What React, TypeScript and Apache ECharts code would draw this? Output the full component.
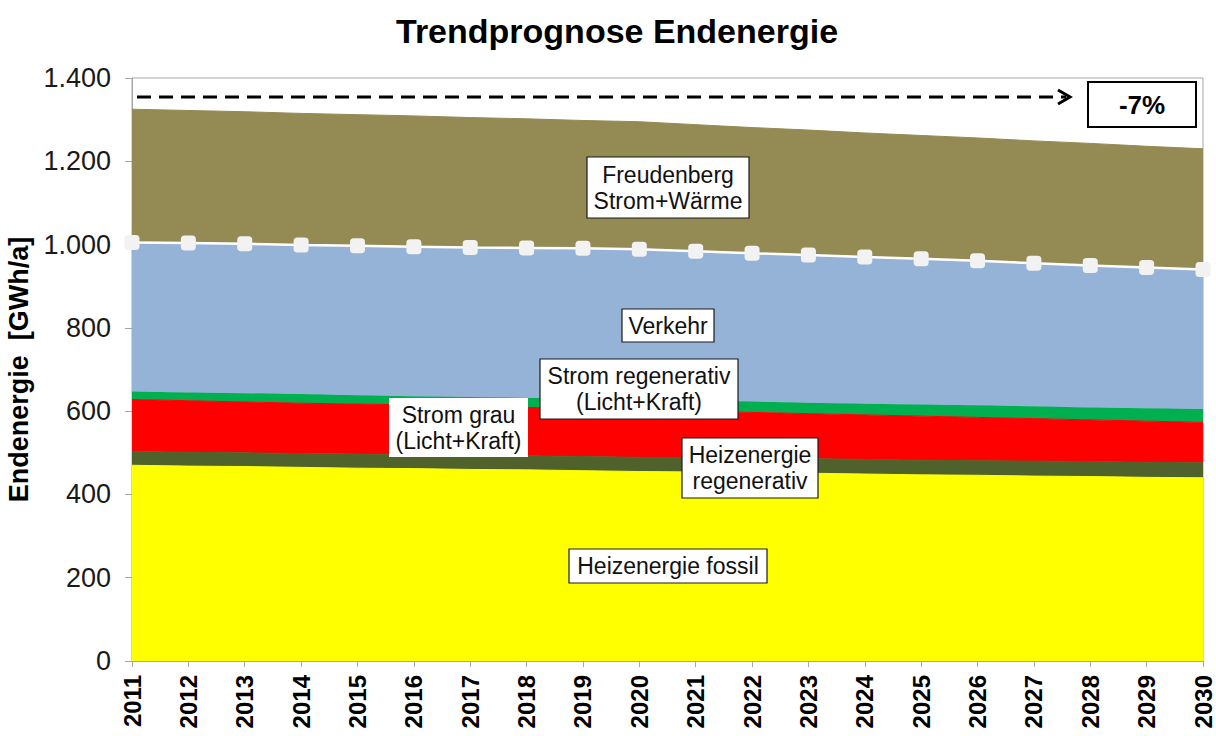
import React, { useEffect, useRef } from "react";
import * as echarts from "echarts";

const years = ["2011","2012","2013","2014","2015","2016","2017","2018","2019","2020","2021","2022","2023","2024","2025","2026","2027","2028","2029","2030"];

// individual (non-cumulative) values in GWh/a
const heizFossil = [470, 468, 467, 465, 463, 462, 460, 459, 457, 455, 454, 452, 451, 449, 447, 446, 444, 443, 441, 440];
const heizRegen = [33, 33, 33, 33, 34, 34, 34, 34, 34, 34, 35, 35, 35, 35, 35, 35, 36, 36, 36, 36];
const stromGrau = [125, 124, 122, 121, 120, 119, 118, 116, 115, 114, 111, 110, 108, 107, 106, 104, 102, 100, 99, 97];
const stromRegen = [19, 20, 21, 22, 21, 21, 22, 23, 23, 24, 25, 26, 26, 27, 28, 29, 30, 30, 31, 32];
const verkehr = [358, 359, 359, 358, 359, 359, 359, 360, 362, 362, 359, 356, 355, 352, 350, 347, 343, 341, 338, 335];
const freudenberg = [320, 318, 317, 316, 315, 314, 312, 310, 307, 306, 304, 302, 300, 298, 296, 295, 294, 293, 291, 290];

const yTicks = [0, 200, 400, 600, 800, 1000, 1200, 1400];

const FONT = "'Liberation Sans', Arial, sans-serif";

function fmt(v: number): string {
  if (v >= 1000) {
    return Math.floor(v / 1000) + "." + String(v % 1000).padStart(3, "0");
  }
  return String(v);
}

function areaSeries(name: string, data: number[], color: string, extra: any = {}) {
  return {
    name,
    type: "line",
    stack: "total",
    data,
    symbol: "none",
    showSymbol: false,
    lineStyle: { width: 1, color },
    itemStyle: { color },
    areaStyle: { color, opacity: 1 },
    ...extra,
  };
}

function box(cx: number, cy: number, w: number, h: number, text: string, border: boolean) {
  return {
    type: "group",
    children: [
      {
        type: "rect",
        shape: { x: cx - w / 2, y: cy - h / 2, width: w, height: h },
        style: { fill: "#ffffff", stroke: border ? "#1a1a1a" : null, lineWidth: border ? 1.2 : 0 },
        z: 100,
      },
      {
        type: "text",
        x: cx,
        y: cy,
        style: {
          text,
          fill: "#111111",
          font: `23px ${FONT}`,
          align: "center",
          verticalAlign: "middle",
          lineHeight: 26,
        },
        z: 101,
      },
    ],
  };
}

export default function App() {
  const ref = useRef<HTMLDivElement>(null);
  useEffect(() => {
    if (!ref.current) return;
    const chart = echarts.init(ref.current, null, { renderer: "svg" });
    const option: any = {
      animation: false,
      backgroundColor: "#ffffff",
      title: {
        text: "Trendprognose Endenergie",
        left: 391,
        top: 9,
        textStyle: { fontFamily: FONT, fontWeight: "bold", fontSize: 34, color: "#000" },
      },
      grid: {
        left: 132,
        top: 78,
        width: 1071,
        height: 583,
        show: true,
        containLabel: false,
        outerBoundsMode: "none",
        borderColor: "#a6a6a6",
        borderWidth: 1,
        backgroundColor: "transparent",
      },
      xAxis: {
        type: "category",
        data: years,
        boundaryGap: false,
        axisLine: { lineStyle: { color: "#a6a6a6", width: 1 } },
        axisTick: { show: true, alignWithLabel: true, length: 6, lineStyle: { color: "#a6a6a6" } },
        axisLabel: {
          rotate: 90,
          interval: 0,
          margin: 14,
          fontFamily: FONT,
          fontWeight: "bold",
          fontSize: 24,
          color: "#000",
        },
        splitLine: { show: false },
      },
      yAxis: {
        type: "value",
        min: 0,
        max: 1400,
        interval: 200,
        name: "Endenergie  [GWh/a]",
        nameLocation: "middle",
        nameRotate: 90,
        nameGap: 95,
        nameTextStyle: { fontFamily: FONT, fontWeight: "bold", fontSize: 27, color: "#000" },
        axisLine: { show: true, lineStyle: { color: "#a6a6a6", width: 1 } },
        axisTick: { show: true, length: 7, lineStyle: { color: "#a6a6a6" } },
        axisLabel: {
          margin: 21,
          fontFamily: FONT,
          fontSize: 27,
          color: "#1a1a1a",
          formatter: (v: number) => (yTicks.includes(v) ? fmt(v) : ""),
        },
        splitLine: { show: false },
      },
      series: [
        areaSeries("Heizenergie fossil", heizFossil, "#ffff00"),
        areaSeries("Heizenergie regenerativ", heizRegen, "#4f622b"),
        areaSeries("Strom grau", stromGrau, "#ff0000"),
        areaSeries("Strom regenerativ", stromRegen, "#00b050"),
        areaSeries("Verkehr", verkehr, "#95b3d7", {
          symbol: "roundRect",
          showSymbol: true,
          symbolSize: 15,
          itemStyle: { color: "#f2f2f2" },
          lineStyle: { width: 2.5, color: "#ffffff" },
          z: 5,
        }),
        areaSeries("Freudenberg Strom+Wärme", freudenberg, "#938a54", { z: 2 }),
      ],
      graphic: [
        // dashed arrow
        {
          type: "line",
          shape: { x1: 137, y1: 97, x2: 1066, y2: 97 },
          style: { stroke: "#000", lineWidth: 3, lineDash: [14, 8] },
          z: 100,
        },
        {
          type: "polyline",
          shape: { points: [[1058, 90], [1070, 97], [1058, 104]] },
          style: { stroke: "#000", lineWidth: 3, fill: null },
          z: 100,
        },
        {
          type: "rect",
          shape: { x: 1088, y: 82, width: 108, height: 45 },
          style: { fill: "#ffffff", stroke: "#000", lineWidth: 2 },
          z: 100,
        },
        {
          type: "text",
          x: 1142,
          y: 105,
          style: {
            text: "-7%",
            fill: "#000",
            font: `bold 26px ${FONT}`,
            align: "center",
            verticalAlign: "middle",
          },
          z: 101,
        },
        box(668, 187.5, 162, 61, "Freudenberg\nStrom+Wärme", true),
        box(668, 325.5, 92, 33, "Verkehr", true),
        box(639, 389, 198, 60, "Strom regenerativ\n(Licht+Kraft)", true),
        box(458.5, 427.5, 139, 59, "Strom grau\n(Licht+Kraft)", false),
        box(750, 468, 136, 60, "Heizenergie\nregenerativ", true),
        box(668, 566, 198, 34, "Heizenergie fossil", true),
      ],
    };
    chart.setOption(option);
    return () => chart.dispose();
  }, []);
  return (
    <div
      ref={ref}
      style={{ position: "fixed", left: 0, top: 0, width: 1216, height: 736 }}
    />
  );
}
